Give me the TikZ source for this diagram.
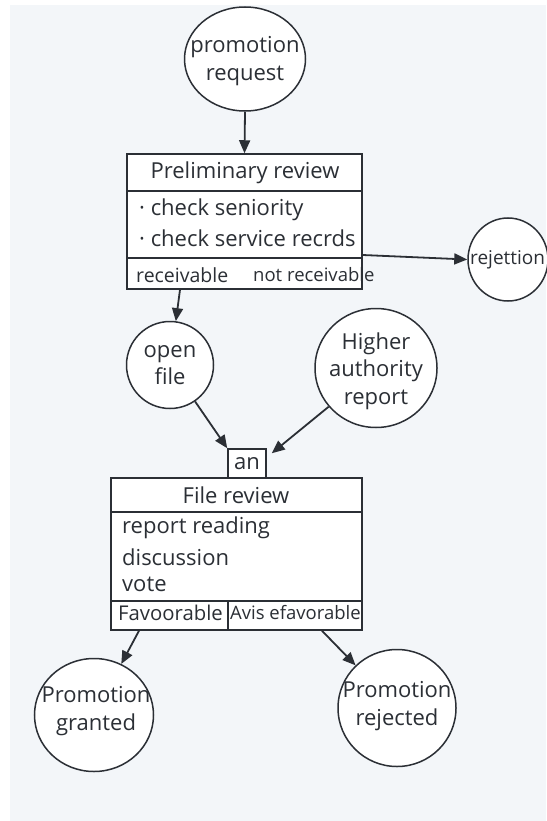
\documentclass[tikz,border=0pt]{standalone}
\usepackage{fontspec}
\setmainfont{Open Sans}
\usetikzlibrary{arrows.meta,shapes.geometric}
\definecolor{ink}{HTML}{2B2F35}
\definecolor{paper}{HTML}{F3F6F9}
\begin{document}
\begin{tikzpicture}[x=1pt,y=-1pt,
  txt/.style={font=\fontsize{22}{27.5}\selectfont, text=ink, inner sep=0pt},
  small/.style={font=\fontsize{19.5}{24}\selectfont, text=ink, inner sep=0pt},
  state/.style={ellipse, draw=ink, line width=1.5pt, fill=white, inner sep=0pt},
  frame/.style={rectangle, draw=ink, line width=1.5pt, fill=white, inner sep=0pt},
  arr/.style={draw=ink, line width=1.8pt, -{Triangle[length=13pt,width=11pt]}},
  rule/.style={draw=ink, line width=1.5pt}]
% page and panel
\fill[white] (0,0) rectangle (546,821);
\fill[paper] (10,5) rectangle (546,821);
\useasboundingbox (0,0) rectangle (546,821);

% round states
\node[state, minimum width=121pt, minimum height=104pt] (req) at (245,59) {};
\node[state, minimum width=80pt, minimum height=83pt] (rej) at (508,259.5) {};
\node[state, minimum size=87pt] (open) at (170,365) {};
\node[state, minimum width=122pt, minimum height=119pt] (high) at (376,368) {};
\node[state, minimum width=119pt, minimum height=113pt] (granted) at (94,715) {};
\node[state, minimum width=118pt, minimum height=117pt] (rejected) at (397,708) {};

% preliminary review box
\node[frame, minimum width=235pt, minimum height=135pt] (prelim) at (244.5,221.5) {};
\draw[rule] (prelim.west |- 0,191) -- (prelim.east |- 0,191);
\draw[rule] (prelim.west |- 0,258) -- (prelim.east |- 0,258);

% file review box with its tag
\node[frame, minimum width=38pt, minimum height=29pt] (an) at (247,463.5) {};
\node[frame, minimum width=251pt, minimum height=152pt] (file) at (236.5,554) {};
\draw[rule] (file.west |- 0,512) -- (file.east |- 0,512);
\draw[rule] (file.west |- 0,601) -- (file.east |- 0,601);
\coordinate (split) at (228,601);
\draw[rule] (split) -- (split |- file.south);

% connectors
\draw[arr] (req.south) -- (prelim.north);
\draw[arr] ([yshift=-33.5pt]prelim.east) -- (rej.west);
\draw[arr] ([xshift=-64.5pt]prelim.south) -- (open);
\draw[arr] (open) -- (an.north west);
\draw[arr] (high) -- ([xshift=5pt,yshift=-5pt]an.north east);
\draw[arr] ([xshift=-97.5pt]file.south) -- (granted);
\draw[arr] ([xshift=85.5pt]file.south) -- (rejected);

% labels
\node[txt, align=center] (treq) at (245,61) {promotion\\request};
\node[txt, font=\fontsize{19}{24}\selectfont, anchor=west] (trej) at (470,260) {rejettion};
\node[txt, align=center] (topen) at (170,365) {open\\file};
\node[txt, align=center] (thigh) at (376,371) {Higher\\authority\\report};
\node[txt, align=center] (tgranted) at (96,711) {Promotion\\granted};
\node[txt, align=center] (trejected) at (397,706) {Promotion\\rejected};

\node[txt] (tprelim) at (245,173) {Preliminary review};
\node[txt, anchor=west] (tp1) at (139,210) {· check seniority};
\node[txt, anchor=west] (tp2) at (139,238) {· check service recrds};
\node[small, anchor=west] (tp3) at (136,275) {receivable};
\node[small, font=\fontsize{18.5}{23}\selectfont, anchor=west] (tp4) at (253,275) {not receivable};

\node[txt] (tan) at (247,464) {an};
\node[txt] (tfile) at (236,495) {File review};
\node[txt, anchor=west] (tf1) at (122,528) {report reading};
\node[txt, anchor=west] (tf2) at (122,557) {discussion};
\node[txt, anchor=west] (tf3) at (122,584) {vote};
\node[small, font=\fontsize{20.3}{24}\selectfont, anchor=west] (tf4) at (118,613) {Favoorable};
\node[small, font=\fontsize{18.5}{22}\selectfont, anchor=west] (tf5) at (230,613) {Avis efavorable};
\end{tikzpicture}
\end{document}
